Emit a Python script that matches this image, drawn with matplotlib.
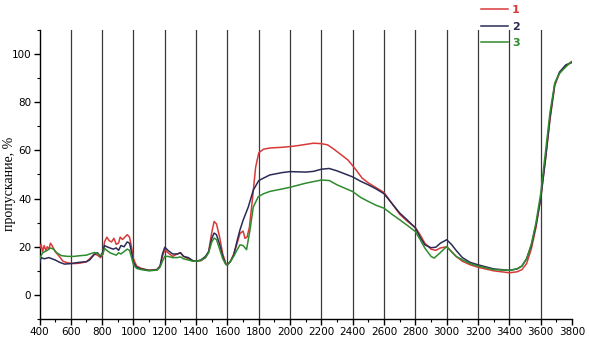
import matplotlib
matplotlib.use("Agg")
import matplotlib.pyplot as plt
from matplotlib.ticker import MultipleLocator

# ---- data ----
w1 = [400, 410, 420, 430, 440, 450, 460, 470, 480, 500, 520, 550, 580, 620, 660, 700, 720, 750, 770, 790,
      805, 815, 830, 845, 860, 875, 890, 905, 915, 930, 945, 960, 975, 990, 1000, 1020, 1050, 1100, 1150, 1170,
      1185, 1200, 1220, 1250, 1280, 1300, 1320, 1350, 1380, 1400, 1430, 1460, 1480, 1500, 1515, 1530, 1550, 1570, 1590, 1600,
      1620, 1640, 1660, 1680, 1700, 1712, 1725, 1740, 1760, 1780, 1800, 1830, 1870, 1950, 2000, 2050, 2100, 2150, 2200, 2240,
      2280, 2320, 2370, 2420, 2460, 2500, 2550, 2600, 2650, 2700, 2750, 2800, 2830, 2860, 2900, 2930, 2960, 3000, 3030, 3060,
      3100, 3150, 3200, 3300, 3400, 3450, 3480, 3510, 3540, 3570, 3600, 3630, 3660, 3690, 3720, 3760, 3800]
s1 = [19, 21, 18, 20.5, 18.5, 20, 19, 21.5, 20.5, 18, 16.5, 14, 13.3, 13, 13.2, 13.8, 15, 17, 16.5, 15.5,
      17, 22, 24, 22.5, 22, 23.5, 21, 21.5, 24, 23, 24, 25, 24, 19, 15, 12, 11, 10.2, 10.6, 12,
      16, 18.8, 17.5, 16, 17, 17.5, 16, 15, 14, 14, 14.2, 15.5, 18, 26, 30.5, 29.5, 24, 17, 13, 12.5,
      14, 17, 21, 25.5, 26.5, 23.5, 24, 28, 40, 53, 59, 60.5, 61, 61.3, 61.6, 62, 62.5, 63, 62.8, 62.3,
      60.5, 58.5, 56, 52, 48.5, 46.5, 44.5, 42.5, 38, 33.5, 30.5, 28, 25, 21.5, 19, 18.5, 19.5, 20, 18, 16,
      14, 12.5, 11.5, 10, 9.2, 9.6, 10.5, 13, 19, 28, 40, 56, 73, 87, 92, 95, 97]

w2 = [400, 410, 430, 460, 480, 500, 530, 560, 600, 650, 700, 720, 750, 770, 790, 805, 815, 830, 850, 870,
      890, 905, 920, 940, 960, 975, 990, 1000, 1020, 1050, 1100, 1150, 1170, 1185, 1200, 1220, 1250, 1280, 1300, 1320,
      1350, 1380, 1400, 1430, 1460, 1480, 1500, 1515, 1530, 1550, 1570, 1590, 1600, 1620, 1640, 1660, 1680, 1700, 1733, 1765,
      1800, 1870, 1950, 2000, 2100, 2150, 2200, 2250, 2300, 2400, 2450, 2500, 2550, 2600, 2650, 2700, 2750, 2800, 2830, 2860,
      2900, 2930, 2960, 3000, 3030, 3060, 3100, 3150, 3200, 3300, 3400, 3450, 3480, 3510, 3540, 3570, 3600, 3630, 3660, 3690,
      3720, 3760, 3800]
s2 = [13, 15.5, 15, 15.5, 15, 14.5, 13.5, 12.8, 13, 13.5, 13.8, 14.5, 16.8, 17.5, 16, 18, 20.5, 20, 19.5, 19,
      19.5, 18.5, 20.5, 20, 22, 21.5, 17, 13.5, 11.5, 10.8, 10.2, 10.4, 12, 17, 19.8, 18.5, 17, 17, 17.5, 16,
      15.5, 14.2, 14, 14.5, 16, 18, 23.5, 25.7, 25, 21, 16, 12.7, 12.5, 14, 16.5, 22, 27, 31, 36.5, 43.5,
      47.5, 49.8, 50.8, 51.2, 51, 51.3, 52.2, 52.5, 51.5, 49, 47.2, 45.7, 44, 42, 38, 34, 31, 27.8, 24, 20.8,
      19.6, 19.8, 21.5, 22.9, 21, 18.5, 15.5, 13.5, 12.5, 10.8, 10.2, 10.8, 12, 15, 20.5, 29, 40, 56, 74, 87.5,
      92.5, 95.5, 96.5]

w3 = [400, 420, 450, 470, 490, 510, 540, 580, 620, 660, 700, 720, 750, 770, 790, 805, 815, 830, 850, 870,
      890, 905, 920, 940, 960, 975, 990, 1000, 1020, 1050, 1100, 1150, 1170, 1185, 1200, 1220, 1250, 1280, 1300, 1320,
      1350, 1380, 1400, 1430, 1460, 1480, 1500, 1515, 1530, 1550, 1570, 1590, 1600, 1620, 1640, 1660, 1680, 1700, 1722, 1744,
      1765, 1797, 1830, 1872, 1950, 2000, 2100, 2200, 2250, 2300, 2400, 2450, 2500, 2550, 2600, 2650, 2700, 2750, 2800, 2830,
      2860, 2900, 2920, 2950, 3000, 3030, 3060, 3100, 3150, 3200, 3300, 3400, 3450, 3480, 3510, 3540, 3570, 3600, 3630, 3660,
      3690, 3720, 3750, 3790]
s3 = [15, 17.5, 18.5, 19.5, 19, 17.5, 16.3, 16, 16, 16.3, 16.5, 17, 17.6, 17.2, 16.2, 17, 19.3, 18.5, 17.5, 17,
      16.5, 17.5, 17, 18, 19, 18.5, 15, 12.5, 11, 10.5, 10, 10.3, 11.5, 14, 16, 16, 15.5, 15.5, 15.8, 15,
      14.5, 14, 14, 14.3, 15.5, 17.5, 22, 23.6, 23, 19, 15, 12.6, 12.5, 14, 16, 18.5, 20.8, 20.5, 18.8, 27,
      36.5, 40.8, 42, 43, 44, 44.7, 46.4, 47.7, 47.5, 45.7, 42.9, 40.5, 38.8, 37.2, 36, 33.5, 31.2, 28.8, 26.3, 23,
      19.5, 16, 15.3, 17, 20.1, 18, 16, 14.6, 13, 12, 10.5, 10.2, 10.8, 12, 15, 21, 30, 42, 59, 76,
      88, 92, 94, 96.5]

labels = ["1", "2", "3"]
colors = ["#d83a3a", "#2b2b55", "#2e8b2e"]
ylabel = "пропускание, %"
xticks = list(range(400, 3801, 200))
yticks = [0, 20, 40, 60, 80, 100]
gridx = list(range(600, 3601, 200))

# ---- figure ----
fig = plt.figure(figsize=(5.89, 3.46), dpi=100)
ax = fig.add_axes([39.5 / 589, 1 - 319 / 346, (572 - 39.5) / 589, (319 - 30) / 346])

for gx in gridx:
    ax.axvline(gx, color="#3a3a3a", lw=0.9, zorder=1)

handles = []
for w, s, c, lab in zip([w1, w2, w3], [s1, s2, s3], colors, labels):
    h, = ax.plot(w, s, color=c, lw=1.1, label=lab, zorder=3)
    handles.append(h)

ax.set_xlim(400, 3800)
ax.set_ylim(-10, 110)
ax.set_xticks(xticks)
ax.set_yticks(yticks)
ax.xaxis.set_minor_locator(MultipleLocator(100))
ax.yaxis.set_minor_locator(MultipleLocator(10))
for sp in ["top", "right"]:
    ax.spines[sp].set_visible(False)
ax.spines["left"].set_linewidth(1.0)
ax.spines["bottom"].set_linewidth(1.0)
ax.tick_params(which="major", direction="out", length=4, width=1, labelsize=7.5, pad=2)
ax.tick_params(which="minor", direction="out", length=2, width=0.8)
for lab in ax.get_xticklabels() + ax.get_yticklabels():
    lab.set_family(["Liberation Sans Narrow", "DejaVu Sans"])

fig.text(10 / 589, 1 - 184 / 346, ylabel, rotation=90, ha="center", va="center",
         family=["Liberation Serif", "DejaVu Serif"], fontsize=10)

leg = ax.legend(handles=handles, labels=labels, loc="upper left",
                bbox_to_anchor=(481 / 589, 1 - 5 / 346), bbox_transform=fig.transFigure,
                frameon=False, fontsize=8, handlelength=2.4, handletextpad=0.4,
                labelspacing=0.6, borderpad=0, borderaxespad=0)
for t, c in zip(leg.get_texts(), colors):
    t.set_color(c)
    t.set_fontweight("bold")

fig.savefig("out.png", dpi=100)
